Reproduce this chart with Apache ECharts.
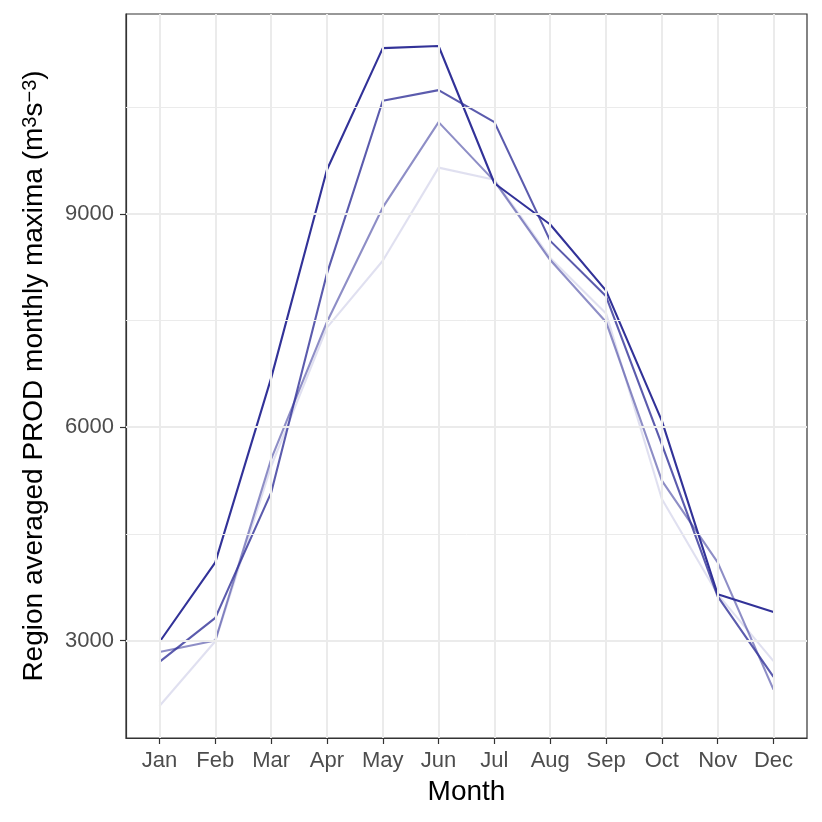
<!DOCTYPE html>
<html>
<head>
<meta charset="utf-8">
<script src="https://cdn.jsdelivr.net/npm/echarts@6/dist/echarts.min.js"></script>
<style>
html, body { margin: 0; padding: 0; background: #fff; }
#main { width: 822px; height: 822px; }
</style>
</head>
<body>
<div id="main"></div>
<script>
// months on the x axis, placed at 1..12
var months = ['Jan', 'Feb', 'Mar', 'Apr', 'May', 'Jun', 'Jul', 'Aug', 'Sep', 'Oct', 'Nov', 'Dec'];
var monthPos = [1, 2, 3, 4, 5, 6, 7, 8, 9, 10, 11, 12];

// four runs, darkest to lightest
var prodA = [2980, 4100, 6690, 9620, 11330, 11360, 9430, 8850, 7920, 6090, 3650, 3400];
var prodB = [2700, 3320, 5080, 8160, 10590, 10740, 10290, 8620, 7840, 5760, 3620, 2490];
var prodC = [2840, 3000, 5550, 7480, 9090, 10290, 9460, 8350, 7480, 5250, 4100, 2310];
var prodD = [2080, 2990, 5450, 7400, 8340, 9650, 9480, 8380, 7600, 4990, 3650, 2710];

var yMajor = [3000, 6000, 9000];
var yMinor = [4500, 7500, 10500];

function pairs(vals) {
    return vals.map(function (v, i) { return [monthPos[i], v]; });
}

var gridLines = [];
yMinor.forEach(function (v) {
    gridLines.push({ yAxis: v, lineStyle: { color: '#ebebeb', width: 1, type: 'solid' } });
});
yMajor.forEach(function (v) {
    gridLines.push({ yAxis: v, lineStyle: { color: '#ebebeb', width: 2, type: 'solid' } });
});
monthPos.forEach(function (v) {
    gridLines.push({ xAxis: v, lineStyle: { color: '#ebebeb', width: 2, type: 'solid' } });
});

function runSeries(name, vals, opacity) {
    return {
        name: name,
        type: 'line',
        data: pairs(vals),
        symbol: 'none',
        z: 3,
        lineStyle: { color: 'rgb(50,50,152)', width: 2.1, opacity: opacity }
    };
}

var myChart = echarts.init(document.getElementById('main'));
var option = {
    backgroundColor: '#fff',
    animation: false,
    textStyle: { fontFamily: 'Liberation Sans' },
    grid: {
        left: 126,
        right: 15,
        top: 14,
        bottom: 84,
        show: true,
        borderColor: '#333333',
        borderWidth: 1.2,
        backgroundColor: 'transparent'
    },
    xAxis: {
        type: 'value',
        min: 0.4,
        max: 12.6,
        name: 'Month',
        nameLocation: 'middle',
        nameGap: 40,
        nameTextStyle: { fontSize: 28, color: '#000', fontFamily: 'Liberation Sans' },
        splitLine: { show: false },
        axisLine: { show: true, lineStyle: { color: '#333333', width: 1.2 } },
        axisTick: { show: true, customValues: monthPos, length: 6, lineStyle: { color: '#333333', width: 1.2 } },
        axisLabel: {
            customValues: monthPos,
            margin: 12,
            fontSize: 22,
            color: '#4d4d4d',
            formatter: function (v) { return months[Math.round(v) - 1]; }
        }
    },
    yAxis: {
        type: 'value',
        min: 1630,
        max: 11810,
        name: 'Region averaged PROD monthly maxima (m{sup|3}s{sup|−3})',
        nameLocation: 'middle',
        nameGap: 78,
        nameTextStyle: {
            fontSize: 28,
            color: '#000',
            fontFamily: 'Liberation Sans',
            rich: {
                sup: { fontSize: 20, color: '#000', fontFamily: 'Liberation Sans', verticalAlign: 'top', lineHeight: 20 }
            }
        },
        splitLine: { show: false },
        axisLine: { show: true, lineStyle: { color: '#333333', width: 1.2 } },
        axisTick: { show: true, customValues: yMajor, length: 6, lineStyle: { color: '#333333', width: 1.2 } },
        axisLabel: {
            customValues: yMajor,
            margin: 12,
            fontSize: 22,
            color: '#4d4d4d',
            formatter: function (v) { return String(v); }
        }
    },
    series: [
        {
            name: 'grid',
            type: 'line',
            data: [],
            z: 1,
            silent: true,
            markLine: {
                silent: true,
                symbol: 'none',
                label: { show: false },
                animation: false,
                data: gridLines
            }
        },
        runSeries('D', prodD, 0.15),
        runSeries('C', prodC, 0.55),
        runSeries('B', prodB, 0.8),
        runSeries('A', prodA, 1)
    ]
};
myChart.setOption(option);
</script>
</body>
</html>
